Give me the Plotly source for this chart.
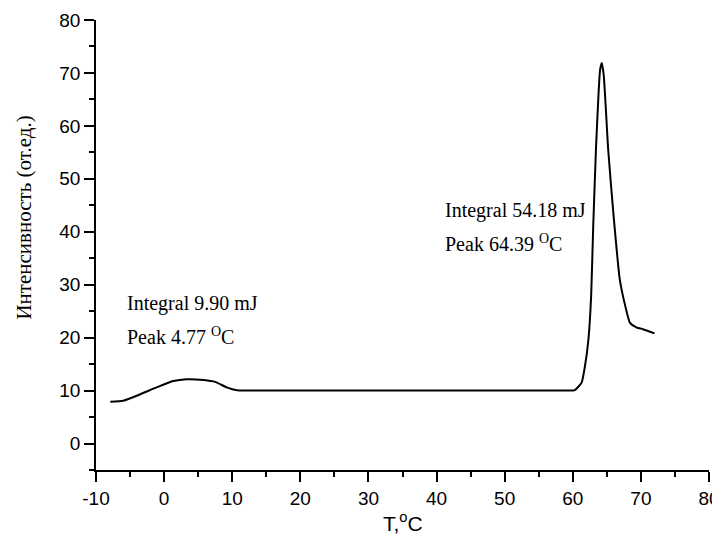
import plotly.graph_objects as go

temperature = [-7.9, -6.0, -3.5, -1.1, 1.35, 3.3, 5.8, 7.5, 9.2, 10.7, 12.1, 20, 30, 40, 50, 58.0, 59.5, 60.3,
               61.3, 61.8, 62.3, 62.7, 63.0, 63.4, 63.76, 64.0, 64.26, 64.55, 65.2, 66.0, 66.9, 67.7, 68.4, 69.4, 70.3, 72.0]
intensity = [7.9, 8.1, 9.3, 10.6, 11.8, 12.15, 12.0, 11.65, 10.6, 10.05, 10.0, 10.0, 10.0, 10.0, 10.0, 10.0, 10.0, 10.1,
             11.5, 14.7, 19.7, 28.0, 41.0, 55.5, 65.5, 70.5, 71.9, 69.5, 55.5, 42.9, 31.0, 26.0, 22.8, 21.9, 21.6, 20.8]

x_ticks = [-10, 0, 10, 20, 30, 40, 50, 60, 70, 80]
y_ticks = [0, 10, 20, 30, 40, 50, 60, 70, 80]

ann1 = ["Integral 9.90 mJ", "Peak 4.77 <sup>O</sup>C"]
ann1_pos = (-5.7, 26.5, 20.3)
ann2 = ["Integral 54.18 mJ", "Peak 64.39 <sup>O</sup>C"]
ann2_pos = (41.0, 44.0, 37.8)

x_title = "T,<sup>o</sup>C"
y_title = "Интенсивность (от.ед.)"

fig = go.Figure()
fig.add_trace(go.Scatter(x=temperature, y=intensity, mode="lines",
                         line=dict(color="black", width=2, shape="spline", smoothing=0.5),
                         showlegend=False, hoverinfo="skip"))

serif = "Liberation Serif, Times New Roman, serif"
sans = "Liberation Sans, Arial, sans-serif"
for texts, pos in ((ann1, ann1_pos), (ann2, ann2_pos)):
    x0, ya, yb = pos
    for t, yy in zip(texts, (ya, yb)):
        fig.add_annotation(x=x0, y=yy, text=t, showarrow=False, xanchor="left", yanchor="middle",
                           font=dict(family=serif, size=20, color="black"))

# axis titles placed as paper annotations
fig.add_annotation(xref="paper", yref="paper", x=-0.119, y=0.561, text=y_title, textangle=-90,
                   showarrow=False, xanchor="center", yanchor="middle",
                   font=dict(family=serif, size=21, color="black"))
fig.add_annotation(xref="paper", yref="paper", x=0.5, y=-0.1156, text=x_title,
                   showarrow=False, xanchor="center", yanchor="middle",
                   font=dict(family=sans, size=21, color="black"))

axis_common = dict(showline=True, linecolor="black", linewidth=1.5, showgrid=False, zeroline=False,
                   ticks="outside", ticklen=10, tickwidth=1.5, tickcolor="black", automargin=False,
                   tickfont=dict(family=sans, size=19, color="black"),
                   minor=dict(ticks="outside", ticklen=5, tickwidth=1.5, tickcolor="black", dtick=5))

fig.update_xaxes(range=[-10, 80], tickvals=x_ticks, ticktext=[str(v) for v in x_ticks], **axis_common)
fig.update_yaxes(range=[-5, 80], tickvals=y_ticks, ticktext=[str(v) for v in y_ticks], **axis_common)

fig.update_layout(width=720, height=547, margin=dict(l=88, r=19, t=12, b=85),
                  plot_bgcolor="white", paper_bgcolor="white")
fig.write_html("out.html")
